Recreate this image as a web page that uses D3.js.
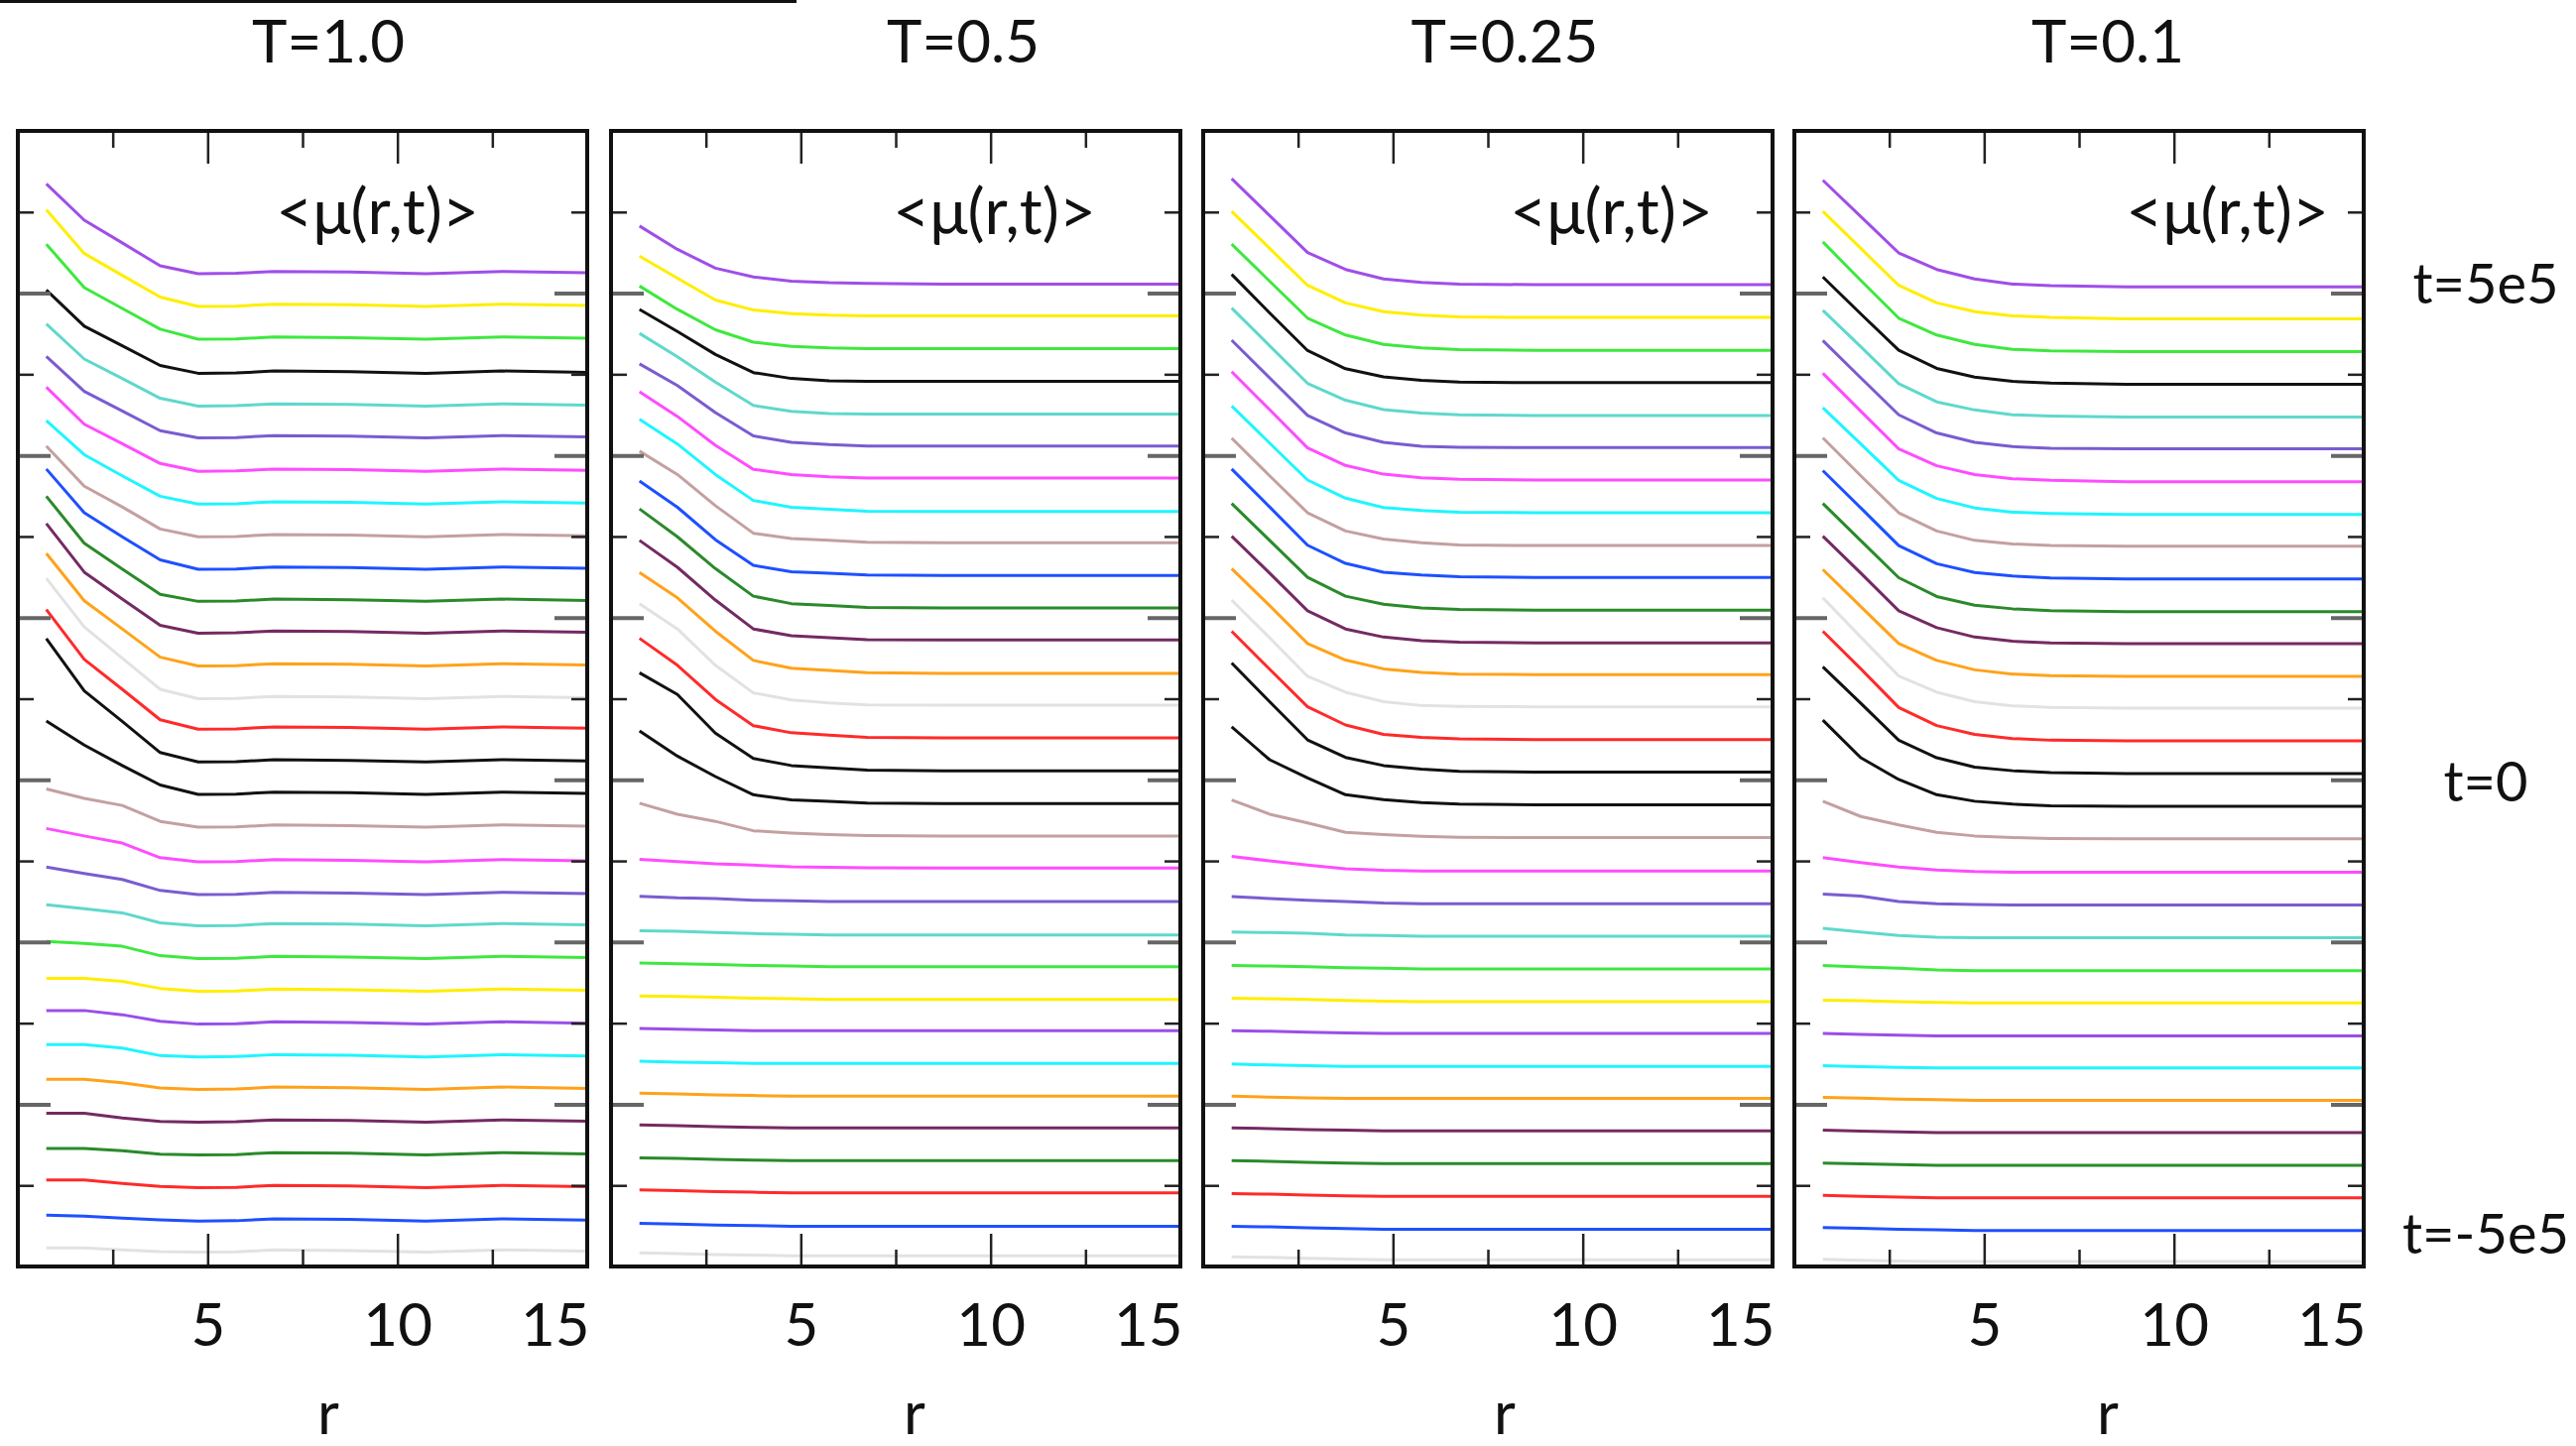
<!DOCTYPE html>
<html>
<head>
<meta charset="utf-8">
<script src="https://cdn.jsdelivr.net/npm/d3@7"></script>
<style>
  body { margin: 0; background: #fff; }
  svg text { font-family: Lato, "Open Sans", sans-serif; fill: #111; }
</style>
</head>
<body>
<div id="viz"></div>
<script>
//Datos: r de los puntos, temperaturas y <mu(r,t)> por curva (indice 0 = curva de abajo, t=-5e5)
const R_VALUES = [0.75, 1.75, 2.75, 3.75, 4.75, 5.75, 6.75, 8.75, 10.75, 12.75, 15];
const TEMPS = ['T=1.0', 'T=0.5', 'T=0.25', 'T=0.1'];
const X_MAJOR = [5, 10, 15];
const X_MINOR = [2.5, 7.5, 12.5];
const Y_MAJOR = [5, 10, 15, 20, 25, 30];
const Y_MINOR = [2.5, 7.5, 12.5, 17.5, 22.5, 27.5, 32.5];
const T_LABELS = ['t=5e5', 't=0', 't=-5e5'];
const T_LABEL_LEVELS = [30.3, 14.95, 1.0];

const LINE_COLORS = [
    '#e2e2e2', '#1e50ff', '#ff2a2a', '#2a8a2a', '#742a62', '#ffa21a', '#1ff5ff', '#9a4ee8',
    '#ffee00', '#3ee83e', '#5fd8cc', '#7a5cd0', '#ff4cff', '#c4a0a0', '#111111', '#111111',
    '#ff2a2a', '#e2e2e2', '#ffa21a', '#742a62', '#2a8a2a', '#1e50ff', '#c4a0a0', '#1ff5ff',
    '#ff4cff', '#7a5cd0', '#5fd8cc', '#111111', '#3ee83e', '#ffee00', '#a04ee8'
];

const MU_T10 = [
    [0.57, 0.57, 0.51, 0.46, 0.44, 0.45, 0.51, 0.49, 0.44, 0.51, 0.47],
    [0.58, 0.55, 0.49, 0.44, 0.40, 0.41, 0.47, 0.45, 0.40, 0.47, 0.43],
    [0.67, 0.67, 0.56, 0.47, 0.43, 0.44, 0.50, 0.48, 0.43, 0.50, 0.46],
    [0.64, 0.64, 0.57, 0.46, 0.44, 0.45, 0.51, 0.49, 0.44, 0.51, 0.47],
    [0.72, 0.72, 0.58, 0.47, 0.45, 0.46, 0.52, 0.50, 0.45, 0.52, 0.48],
    [0.77, 0.77, 0.66, 0.50, 0.46, 0.47, 0.53, 0.51, 0.46, 0.53, 0.49],
    [0.84, 0.84, 0.73, 0.50, 0.46, 0.47, 0.53, 0.51, 0.46, 0.53, 0.49],
    [0.89, 0.89, 0.76, 0.56, 0.47, 0.48, 0.54, 0.52, 0.47, 0.54, 0.50],
    [0.88, 0.88, 0.79, 0.57, 0.48, 0.49, 0.55, 0.53, 0.48, 0.55, 0.51],
    [1.02, 0.96, 0.87, 0.58, 0.49, 0.50, 0.56, 0.54, 0.49, 0.56, 0.52],
    [1.15, 1.03, 0.90, 0.59, 0.50, 0.51, 0.57, 0.55, 0.50, 0.57, 0.53],
    [1.31, 1.11, 0.93, 0.59, 0.46, 0.47, 0.53, 0.51, 0.46, 0.53, 0.49],
    [1.50, 1.27, 1.05, 0.60, 0.47, 0.48, 0.54, 0.52, 0.47, 0.54, 0.50],
    [1.72, 1.43, 1.21, 0.72, 0.54, 0.55, 0.61, 0.59, 0.54, 0.61, 0.57],
    [2.81, 2.07, 1.44, 0.84, 0.55, 0.56, 0.62, 0.60, 0.55, 0.62, 0.58],
    [4.35, 2.74, 1.80, 0.84, 0.55, 0.56, 0.62, 0.60, 0.55, 0.62, 0.58],
    [4.25, 2.71, 1.79, 0.85, 0.56, 0.57, 0.63, 0.61, 0.56, 0.63, 0.59],
    [4.21, 2.71, 1.75, 0.79, 0.50, 0.51, 0.57, 0.55, 0.50, 0.57, 0.53],
    [3.98, 2.52, 1.65, 0.78, 0.51, 0.52, 0.58, 0.56, 0.51, 0.58, 0.54],
    [3.90, 2.40, 1.57, 0.76, 0.52, 0.53, 0.59, 0.57, 0.52, 0.59, 0.55],
    [3.74, 2.29, 1.50, 0.72, 0.50, 0.51, 0.57, 0.55, 0.50, 0.57, 0.53],
    [3.58, 2.23, 1.49, 0.78, 0.49, 0.50, 0.56, 0.54, 0.49, 0.56, 0.52],
    [3.29, 2.05, 1.41, 0.73, 0.49, 0.50, 0.56, 0.54, 0.49, 0.56, 0.52],
    [3.07, 2.02, 1.37, 0.74, 0.50, 0.51, 0.57, 0.55, 0.50, 0.57, 0.53],
    [3.10, 1.96, 1.36, 0.75, 0.51, 0.52, 0.58, 0.56, 0.51, 0.58, 0.54],
    [3.05, 1.97, 1.37, 0.76, 0.54, 0.55, 0.61, 0.59, 0.54, 0.61, 0.57],
    [3.05, 1.97, 1.37, 0.76, 0.52, 0.53, 0.59, 0.57, 0.52, 0.59, 0.55],
    [3.10, 1.98, 1.38, 0.77, 0.53, 0.54, 0.60, 0.58, 0.53, 0.60, 0.56],
    [3.51, 2.17, 1.53, 0.89, 0.58, 0.59, 0.65, 0.63, 0.58, 0.65, 0.61],
    [3.57, 2.22, 1.55, 0.88, 0.59, 0.60, 0.66, 0.64, 0.59, 0.66, 0.62],
    [3.37, 2.25, 1.55, 0.84, 0.60, 0.61, 0.67, 0.65, 0.60, 0.67, 0.63]
];

const MU_T05 = [
    [0.42, 0.40, 0.37, 0.35, 0.33, 0.33, 0.33, 0.33, 0.33, 0.33, 0.33],
    [0.33, 0.31, 0.28, 0.26, 0.24, 0.24, 0.24, 0.24, 0.24, 0.24, 0.24],
    [0.36, 0.34, 0.31, 0.29, 0.27, 0.27, 0.27, 0.27, 0.27, 0.27, 0.27],
    [0.35, 0.33, 0.30, 0.28, 0.26, 0.26, 0.26, 0.26, 0.26, 0.26, 0.26],
    [0.36, 0.34, 0.31, 0.29, 0.27, 0.27, 0.27, 0.27, 0.27, 0.27, 0.27],
    [0.34, 0.32, 0.29, 0.27, 0.25, 0.25, 0.25, 0.25, 0.25, 0.25, 0.25],
    [0.33, 0.30, 0.28, 0.26, 0.26, 0.26, 0.26, 0.26, 0.26, 0.26, 0.26],
    [0.34, 0.31, 0.29, 0.27, 0.27, 0.27, 0.27, 0.27, 0.27, 0.27, 0.27],
    [0.34, 0.32, 0.30, 0.27, 0.25, 0.23, 0.23, 0.23, 0.23, 0.23, 0.23],
    [0.35, 0.33, 0.31, 0.28, 0.26, 0.24, 0.24, 0.24, 0.24, 0.24, 0.24],
    [0.35, 0.33, 0.29, 0.26, 0.24, 0.22, 0.22, 0.22, 0.22, 0.22, 0.22],
    [0.41, 0.36, 0.34, 0.29, 0.27, 0.25, 0.25, 0.25, 0.25, 0.25, 0.25],
    [0.55, 0.48, 0.41, 0.37, 0.32, 0.30, 0.29, 0.28, 0.28, 0.28, 0.28],
    [1.28, 0.94, 0.72, 0.43, 0.36, 0.31, 0.28, 0.27, 0.27, 0.27, 0.27],
    [2.51, 1.73, 1.10, 0.54, 0.38, 0.34, 0.28, 0.27, 0.27, 0.27, 0.27],
    [3.30, 2.63, 1.44, 0.66, 0.44, 0.37, 0.30, 0.28, 0.28, 0.28, 0.28],
    [3.36, 2.53, 1.48, 0.67, 0.45, 0.38, 0.31, 0.29, 0.29, 0.29, 0.29],
    [3.43, 2.65, 1.53, 0.68, 0.46, 0.37, 0.31, 0.30, 0.30, 0.30, 0.30],
    [3.39, 2.61, 1.58, 0.68, 0.44, 0.37, 0.30, 0.28, 0.28, 0.28, 0.28],
    [3.38, 2.55, 1.54, 0.65, 0.44, 0.38, 0.32, 0.31, 0.31, 0.31, 0.31],
    [3.35, 2.49, 1.51, 0.66, 0.43, 0.37, 0.31, 0.30, 0.30, 0.30, 0.30],
    [3.21, 2.40, 1.40, 0.61, 0.41, 0.37, 0.31, 0.30, 0.30, 0.30, 0.30],
    [3.13, 2.41, 1.45, 0.60, 0.44, 0.38, 0.32, 0.31, 0.31, 0.31, 0.31],
    [3.11, 2.35, 1.41, 0.61, 0.40, 0.34, 0.28, 0.27, 0.27, 0.27, 0.27],
    [2.96, 2.20, 1.31, 0.57, 0.41, 0.34, 0.30, 0.30, 0.30, 0.30, 0.30],
    [2.82, 2.15, 1.32, 0.60, 0.40, 0.33, 0.29, 0.29, 0.29, 0.29, 0.29],
    [2.76, 2.04, 1.26, 0.54, 0.36, 0.29, 0.27, 0.27, 0.27, 0.27, 0.27],
    [2.50, 1.82, 1.11, 0.55, 0.37, 0.30, 0.28, 0.28, 0.28, 0.28, 0.28],
    [2.22, 1.50, 0.87, 0.49, 0.36, 0.31, 0.29, 0.29, 0.29, 0.29, 0.29],
    [2.14, 1.46, 0.79, 0.48, 0.37, 0.32, 0.30, 0.30, 0.30, 0.30, 0.30],
    [2.07, 1.35, 0.77, 0.50, 0.37, 0.32, 0.30, 0.28, 0.28, 0.28, 0.28]
];

const MU_T025 = [
    [0.30, 0.28, 0.25, 0.23, 0.21, 0.21, 0.21, 0.21, 0.21, 0.21, 0.21],
    [0.24, 0.22, 0.19, 0.17, 0.15, 0.15, 0.15, 0.15, 0.15, 0.15, 0.15],
    [0.25, 0.23, 0.20, 0.18, 0.16, 0.16, 0.16, 0.16, 0.16, 0.16, 0.16],
    [0.26, 0.24, 0.21, 0.19, 0.17, 0.17, 0.17, 0.17, 0.17, 0.17, 0.17],
    [0.27, 0.25, 0.22, 0.20, 0.18, 0.18, 0.18, 0.18, 0.18, 0.18, 0.18],
    [0.25, 0.22, 0.20, 0.18, 0.18, 0.18, 0.18, 0.18, 0.18, 0.18, 0.18],
    [0.24, 0.21, 0.19, 0.17, 0.17, 0.17, 0.17, 0.17, 0.17, 0.17, 0.17],
    [0.27, 0.25, 0.22, 0.20, 0.18, 0.18, 0.18, 0.18, 0.18, 0.18, 0.18],
    [0.27, 0.25, 0.23, 0.20, 0.18, 0.16, 0.16, 0.16, 0.16, 0.16, 0.16],
    [0.28, 0.26, 0.24, 0.21, 0.19, 0.17, 0.17, 0.17, 0.17, 0.17, 0.17],
    [0.31, 0.29, 0.27, 0.22, 0.20, 0.18, 0.18, 0.18, 0.18, 0.18, 0.18],
    [0.40, 0.34, 0.29, 0.25, 0.20, 0.18, 0.18, 0.18, 0.18, 0.18, 0.18],
    [0.64, 0.50, 0.37, 0.26, 0.21, 0.19, 0.19, 0.19, 0.19, 0.19, 0.19],
    [1.38, 0.94, 0.67, 0.38, 0.31, 0.26, 0.23, 0.22, 0.22, 0.22, 0.22],
    [2.63, 1.62, 1.06, 0.54, 0.39, 0.30, 0.25, 0.23, 0.23, 0.23, 0.23],
    [3.60, 2.41, 1.23, 0.69, 0.44, 0.33, 0.26, 0.24, 0.24, 0.24, 0.24],
    [3.58, 2.41, 1.25, 0.69, 0.40, 0.31, 0.26, 0.24, 0.24, 0.24, 0.24],
    [3.54, 2.38, 1.19, 0.70, 0.41, 0.29, 0.26, 0.25, 0.25, 0.25, 0.25],
    [3.51, 2.37, 1.20, 0.69, 0.42, 0.31, 0.26, 0.24, 0.24, 0.24, 0.24],
    [3.51, 2.37, 1.21, 0.65, 0.40, 0.29, 0.24, 0.22, 0.22, 0.22, 0.22],
    [3.52, 2.38, 1.24, 0.66, 0.41, 0.30, 0.25, 0.23, 0.23, 0.23, 0.23],
    [3.58, 2.41, 1.23, 0.67, 0.40, 0.31, 0.26, 0.24, 0.24, 0.24, 0.24],
    [3.53, 2.37, 1.23, 0.67, 0.42, 0.31, 0.24, 0.22, 0.22, 0.22, 0.22],
    [3.52, 2.38, 1.24, 0.68, 0.39, 0.30, 0.25, 0.23, 0.23, 0.23, 0.23],
    [3.58, 2.41, 1.23, 0.69, 0.42, 0.31, 0.26, 0.24, 0.24, 0.24, 0.24],
    [3.55, 2.39, 1.23, 0.69, 0.40, 0.28, 0.25, 0.24, 0.24, 0.24, 0.24],
    [3.54, 2.38, 1.22, 0.70, 0.41, 0.30, 0.25, 0.23, 0.23, 0.23, 0.23],
    [3.58, 2.39, 1.23, 0.67, 0.42, 0.31, 0.26, 0.24, 0.24, 0.24, 0.24],
    [3.51, 2.37, 1.23, 0.71, 0.42, 0.31, 0.26, 0.24, 0.24, 0.24, 0.24],
    [3.52, 2.38, 1.24, 0.70, 0.43, 0.32, 0.27, 0.25, 0.25, 0.25, 0.25],
    [3.53, 2.39, 1.25, 0.73, 0.44, 0.33, 0.28, 0.26, 0.26, 0.26, 0.26]
];

const MU_T01 = [
    [0.22, 0.19, 0.17, 0.15, 0.15, 0.15, 0.15, 0.15, 0.15, 0.15, 0.15],
    [0.20, 0.18, 0.15, 0.13, 0.11, 0.11, 0.11, 0.11, 0.11, 0.11, 0.11],
    [0.19, 0.16, 0.14, 0.12, 0.12, 0.12, 0.12, 0.12, 0.12, 0.12, 0.12],
    [0.19, 0.16, 0.14, 0.12, 0.12, 0.12, 0.12, 0.12, 0.12, 0.12, 0.12],
    [0.20, 0.17, 0.15, 0.13, 0.13, 0.13, 0.13, 0.13, 0.13, 0.13, 0.13],
    [0.21, 0.19, 0.16, 0.14, 0.12, 0.12, 0.12, 0.12, 0.12, 0.12, 0.12],
    [0.19, 0.16, 0.14, 0.12, 0.12, 0.12, 0.12, 0.12, 0.12, 0.12, 0.12],
    [0.18, 0.15, 0.13, 0.11, 0.11, 0.11, 0.11, 0.11, 0.11, 0.11, 0.11],
    [0.21, 0.19, 0.16, 0.14, 0.12, 0.12, 0.12, 0.12, 0.12, 0.12, 0.12],
    [0.28, 0.23, 0.19, 0.14, 0.12, 0.12, 0.12, 0.12, 0.12, 0.12, 0.12],
    [0.42, 0.31, 0.20, 0.15, 0.13, 0.13, 0.13, 0.13, 0.13, 0.13, 0.13],
    [0.48, 0.42, 0.25, 0.18, 0.16, 0.14, 0.14, 0.14, 0.14, 0.14, 0.14],
    [0.60, 0.45, 0.31, 0.22, 0.17, 0.15, 0.15, 0.15, 0.15, 0.15, 0.15],
    [1.34, 0.87, 0.61, 0.38, 0.27, 0.22, 0.19, 0.18, 0.18, 0.18, 0.18],
    [2.84, 1.68, 1.01, 0.54, 0.34, 0.25, 0.20, 0.18, 0.18, 0.18, 0.18],
    [3.48, 2.36, 1.22, 0.68, 0.39, 0.28, 0.22, 0.19, 0.19, 0.19, 0.19],
    [3.58, 2.42, 1.23, 0.67, 0.40, 0.27, 0.22, 0.20, 0.20, 0.20, 0.20],
    [3.61, 2.40, 1.20, 0.70, 0.41, 0.28, 0.23, 0.21, 0.21, 0.21, 0.21],
    [3.48, 2.34, 1.20, 0.68, 0.39, 0.26, 0.21, 0.19, 0.19, 0.19, 0.19],
    [3.51, 2.37, 1.21, 0.69, 0.40, 0.27, 0.22, 0.20, 0.20, 0.20, 0.20],
    [3.52, 2.37, 1.23, 0.65, 0.38, 0.27, 0.21, 0.18, 0.18, 0.18, 0.18],
    [3.53, 2.38, 1.22, 0.66, 0.39, 0.28, 0.22, 0.19, 0.19, 0.19, 0.19],
    [3.54, 2.37, 1.23, 0.67, 0.38, 0.27, 0.22, 0.20, 0.20, 0.20, 0.20],
    [3.47, 2.35, 1.23, 0.67, 0.38, 0.25, 0.21, 0.18, 0.18, 0.18, 0.18],
    [3.53, 2.36, 1.20, 0.68, 0.41, 0.28, 0.23, 0.19, 0.19, 0.19, 0.19],
    [3.54, 2.39, 1.25, 0.69, 0.40, 0.27, 0.22, 0.20, 0.20, 0.20, 0.20],
    [3.47, 2.35, 1.21, 0.65, 0.40, 0.25, 0.21, 0.18, 0.18, 0.18, 0.18],
    [3.50, 2.36, 1.24, 0.68, 0.41, 0.28, 0.23, 0.19, 0.19, 0.19, 0.19],
    [3.58, 2.39, 1.23, 0.71, 0.42, 0.27, 0.22, 0.20, 0.20, 0.20, 0.20],
    [3.52, 2.38, 1.24, 0.70, 0.43, 0.30, 0.25, 0.21, 0.21, 0.21, 0.21],
    [3.48, 2.36, 1.24, 0.73, 0.44, 0.28, 0.23, 0.19, 0.19, 0.19, 0.19]
];

const PANEL_DATA = [MU_T10, MU_T05, MU_T025, MU_T01];

//Posiciones de la figura
const W = 2597, H = 1458;
const panelX = [18, 616, 1213, 1809];
const panelTop = 132, panelW = 574, panelH = 1145;
const titleX = [331, 971, 1517, 2125];
const rLabelX = [331, 922, 1517, 2125];
const muRight = [483, 1105, 1727, 2348];

let svg = d3.select('#viz')
    .append('svg')
        .attr('width', W)
        .attr('height', H);

//Linea superior de la figura original
svg.append('line')
    .attr('x1', 0).attr('x2', 803)
    .attr('y1', 1.5).attr('y2', 1.5)
    .attr('stroke', '#111')
    .attr('stroke-width', 3);

let x = d3.scaleLinear().domain([0, 15]).range([0, panelW]);
let y = d3.scaleLinear().domain([0, 35]).range([panelH, 0]);

let line = d3.line()
    .x(function(d) { return x(d.r); })
    .y(function(d) { return y(d.v); });

PANEL_DATA.forEach(function(mu, p) {
    let g = svg.append('g')
        .attr('transform', 'translate(' + panelX[p] + ',' + panelTop + ')');

    g.append('clipPath')
        .attr('id', 'clip' + p)
        .append('rect')
            .attr('width', panelW)
            .attr('height', panelH);

    //Curvas desplazadas, una por cada t
    let series = mu.map(function(vals, k) {
        return vals.map(function(m, i) { return { r: R_VALUES[i], v: k + m }; });
    });

    g.append('g')
        .attr('clip-path', 'url(#clip' + p + ')')
        .selectAll('path')
        .data(series)
        .enter()
        .append('path')
            .attr('d', line)
            .attr('fill', 'none')
            .attr('stroke', function(d, k) { return LINE_COLORS[k]; })
            .attr('stroke-width', 3)
            .attr('stroke-linejoin', 'round');

    //Ticks (hacia dentro)
    function tickAxis(axis, values, size, transform, color, width) {
        let a = g.append('g')
            .attr('transform', transform)
            .call(axis.tickValues(values).tickSize(-size).tickFormat(''));
        a.select('.domain').remove();
        a.selectAll('line').attr('stroke', color).attr('stroke-width', width);
    }
    tickAxis(d3.axisTop(x), X_MAJOR, 33, 'translate(0,0)', '#222', 2.5);
    tickAxis(d3.axisTop(x), X_MINOR, 17, 'translate(0,0)', '#222', 2.5);
    tickAxis(d3.axisBottom(x), X_MAJOR, 33, 'translate(0,' + panelH + ')', '#222', 2.5);
    tickAxis(d3.axisBottom(x), X_MINOR, 17, 'translate(0,' + panelH + ')', '#222', 2.5);
    tickAxis(d3.axisLeft(y), Y_MAJOR, 33, 'translate(0,0)', '#666', 4);
    tickAxis(d3.axisLeft(y), Y_MINOR, 16, 'translate(0,0)', '#222', 2.5);
    tickAxis(d3.axisRight(y), Y_MAJOR, 33, 'translate(' + panelW + ',0)', '#666', 4);
    tickAxis(d3.axisRight(y), Y_MINOR, 16, 'translate(' + panelW + ',0)', '#222', 2.5);

    //Etiquetas del eje r
    let lab = g.append('g')
        .attr('transform', 'translate(0,' + panelH + ')')
        .call(d3.axisBottom(x).tickValues(X_MAJOR).tickSize(0).tickPadding(37));
    lab.select('.domain').remove();
    lab.selectAll('text')
        .style('font-size', '60px')
        .style('font-family', 'Lato, "Open Sans", sans-serif')
        .attr('fill', '#111');
    lab.selectAll('.tick')
        .filter(function(d) { return d === 15; })
        .select('text')
            .attr('text-anchor', 'end')
            .attr('dx', '2');

    //Marco
    g.append('rect')
        .attr('width', panelW)
        .attr('height', panelH)
        .attr('fill', 'none')
        .attr('stroke', '#111')
        .attr('stroke-width', 4);

    g.append('text')
        .attr('x', muRight[p] - panelX[p])
        .attr('y', 236 - panelTop)
        .attr('text-anchor', 'end')
        .style('font-size', '64px')
        .text('<\u03bc(r,t)>');
});

svg.selectAll('.title')
    .data(TEMPS)
    .enter()
    .append('text')
        .attr('class', 'title')
        .attr('x', function(d, i) { return titleX[i]; })
        .attr('y', 63)
        .attr('text-anchor', 'middle')
        .style('font-size', '60px')
        .text(function(d) { return d; });

svg.selectAll('.rlabel')
    .data(TEMPS)
    .enter()
    .append('text')
        .attr('class', 'rlabel')
        .attr('x', function(d, i) { return rLabelX[i]; })
        .attr('y', 1446)
        .attr('text-anchor', 'middle')
        .style('font-size', '60px')
        .text('r');

svg.selectAll('.tlabel')
    .data(T_LABELS)
    .enter()
    .append('text')
        .attr('class', 'tlabel')
        .attr('x', 2506)
        .attr('y', function(d, i) { return panelTop + y(T_LABEL_LEVELS[i]); })
        .attr('dy', '0.36em')
        .attr('text-anchor', 'middle')
        .style('font-size', '56px')
        .text(function(d) { return d; });
</script>
</body>
</html>
